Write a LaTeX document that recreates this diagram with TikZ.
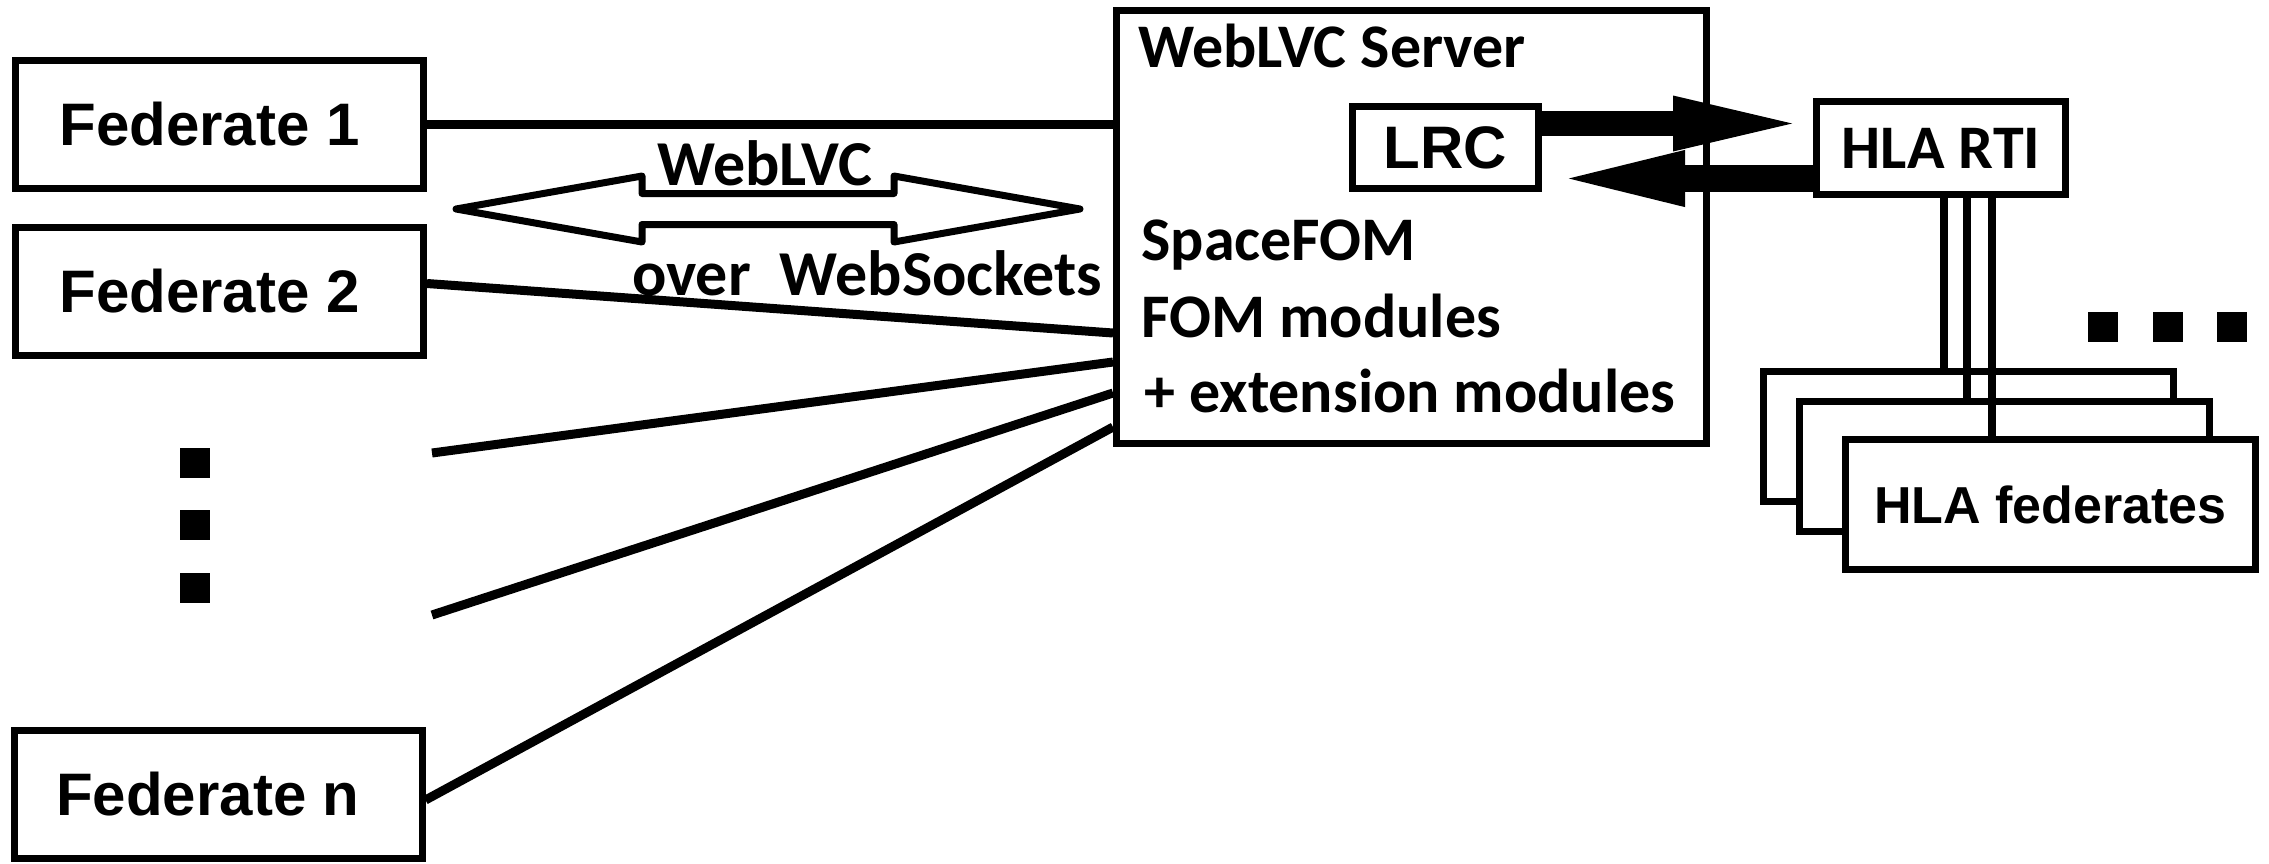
\documentclass[tikz,border=0pt]{standalone}
\usepackage{fontspec}
\setmainfont{Liberation Sans}
\newfontfamily\calfont{Carlito}
\usetikzlibrary{arrows.meta}
\begin{document}
\begin{tikzpicture}[x=0.5pt,y=-0.5pt,
  box/.style={draw, line width=3.5pt, fill=white, inner sep=0pt},
  fedbox/.style={box, minimum width=204pt, minimum height=64pt, font=\fontsize{30pt}{36pt}\selectfont\bfseries},
  srvbox/.style={box, minimum width=295pt, minimum height=216.5pt},
  calbig/.style={font=\calfont\fontsize{31pt}{36pt}\selectfont\bfseries, inner sep=0pt},
  lrcbox/.style={box, minimum width=93pt, minimum height=41pt, font=\fontsize{30pt}{36pt}\selectfont\bfseries},
  rtibox/.style={box, minimum width=124.5pt, minimum height=46.5pt, font=\calfont\fontsize{31pt}{36pt}\selectfont\bfseries},
  hfbox/.style={box, minimum width=205pt, minimum height=65pt, font=\fontsize{26pt}{30pt}\selectfont\bfseries},
  conn/.style={line width=4.5pt},
  vline/.style={line width=4pt},
  dotsq/.style={fill=black, draw=none, minimum size=15pt, inner sep=0pt},
  outlinearrow/.style={line width=3.5pt, line join=round}
]
\useasboundingbox (0,0) rectangle (2269,863);

% federates
\node[fedbox] (fed1) at (219.5,124.5) {\kern-10pt Federate 1};
\node[fedbox] (fed2) at (219.5,291.5) {\kern-10pt Federate 2};
\node[fedbox] (fedn) at (218,794) {\kern-10pt Federate n};

% vertical dots
\node[dotsq] (vd1) at (195,463) {};
\node[dotsq] (vd2) at (195,525) {};
\node[dotsq] (vd3) at (195,588) {};

% server
\node[srvbox] (srv) at (1411.5,227) {};
\node[calbig, anchor=base west] (srvt) at (1138,67) {WebLVC Server};
\node[calbig, anchor=base west] (sp1) at (1141,260) {SpaceFOM};
\node[calbig, anchor=base west] (sp2) at (1141,337) {FOM modules};
\node[calbig, anchor=base west] (sp3) at (1144,412) {+ extension modules};

\node[lrcbox] (lrc) at (1445.5,147.5) {LRC};
\node[rtibox] (hla) at (1941,148) {HLA RTI};

% connectors federates -> server
\coordinate (d3) at (432,453);
\coordinate (d4) at (432,615);
\draw[conn] (fed1.east) -- (fed1.east -| srv.west);
\draw[conn] ([yshift=4pt]fed2.east) -- ([yshift=-53pt]srv.west);
\draw[conn] (d3) -- ([yshift=-67.5pt]srv.west);
\draw[conn] (d4) -- ([yshift=-83pt]srv.west);
\draw[conn] ([yshift=-3pt]fedn.east) -- ([yshift=-100pt]srv.west);

% WebLVC double arrow
\draw[outlinearrow] (456,209) -- (642,176) -- (642,193.5) -- (894,193.5) -- (894,176)
  -- (1080,209) -- (894,242) -- (894,224.5) -- (642,224.5) -- (642,242) -- cycle;
\node[calbig, font=\calfont\fontsize{32pt}{36pt}\selectfont\bfseries, anchor=base] (wl) at (765,185) {WebLVC};
\node[calbig, font=\calfont\fontsize{32pt}{36pt}\selectfont\bfseries, anchor=base] (ows) at (867,295) {over~~WebSockets};

% LRC <-> RTI arrows
\draw[line width=12.5pt, -{Triangle[length=70pt,width=23.5pt]}] ([yshift=12pt]lrc.east) -- ([yshift=12pt]lrc.east -| hla.west);
\draw[line width=13.5pt, -{Triangle[length=71.5pt,width=23.5pt]}] ([yshift=-15.5pt]lrc.east -| hla.west) -- ([yshift=-15.5pt]lrc.east);

% HLA federates stack
\node[hfbox] (hf1) at (1968.5,436.5) {};
\node[hfbox] (hf2) at (2004.5,466.5) {};
\node[hfbox] (hf3) at (2050.5,504.5) {HLA federates};

\draw[vline] ([xshift=1.25pt]hla.south) -- ([xshift=1.25pt]hla.south |- hf1.north);
\draw[vline] ([xshift=12.75pt]hla.south) -- ([xshift=12.75pt]hla.south |- hf2.north);
\draw[vline] ([xshift=25.25pt]hla.south) -- ([xshift=25.25pt]hla.south |- hf3.north);

% horizontal dots
\node[dotsq] (hd1) at (2103,327) {};
\node[dotsq] (hd2) at (2168,327) {};
\node[dotsq] (hd3) at (2232,327) {};
\end{tikzpicture}
\end{document}
